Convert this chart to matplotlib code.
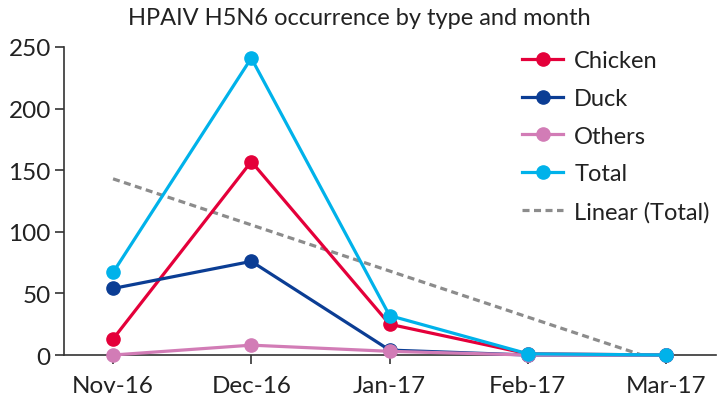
import numpy as np
import matplotlib
matplotlib.use('Agg')
import matplotlib.pyplot as plt

months = ['Nov-16', 'Dec-16', 'Jan-17', 'Feb-17', 'Mar-17']
chicken = [13, 157, 25, 1, 0]
duck = [54, 76, 4, 0, 0]
others = [0, 8, 3, 0, 0]
total = [67, 241, 32, 1, 0]

plt.rcParams['font.family'] = ['Lato', 'DejaVu Sans']
fig = plt.figure(figsize=(7.18, 4.02), dpi=100)
ax = fig.add_axes([0.0891, 0.1144, 0.9079, 0.7662])

x = np.arange(len(months))
series = [
    ('Chicken', chicken, '#e4003a'),
    ('Duck', duck, '#0b3d94'),
    ('Others', others, '#d27cb6'),
    ('Total', total, '#00b2ea'),
]
for name, vals, col in series:
    ax.plot(x, vals, color=col, lw=2.3, marker='o', ms=9.5, label=name,
            clip_on=False, zorder=3)

# linear trend of total
k, b = np.polyfit(x, total, 1)
ax.plot(x, k * x + b, color='#8c8c8c', lw=2.3, ls=(0, (2.2, 1.4)),
        label='Linear (Total)', zorder=2)

ax.set_xlim(-0.355, 4.36)
ax.set_ylim(0, 250)
ax.set_yticks([0, 50, 100, 150, 200, 250])
ax.set_xticks(x)
ax.set_xticklabels(months)

for s in ['top', 'right']:
    ax.spines[s].set_visible(False)
for s in ['left', 'bottom']:
    ax.spines[s].set_color('#333333')
    ax.spines[s].set_linewidth(1.2)
ax.tick_params(axis='both', labelsize=17.5, color='#333333', width=1.2,
               length=6.5, labelcolor='#222222')
ax.tick_params(axis='x', pad=8)
ax.tick_params(axis='y', pad=3)

fig.text(0.5, 0.955, 'HPAIV H5N6 occurrence by type and month',
         ha='center', va='center', fontsize=17, color='#222222')

leg = ax.legend(loc='upper left', bbox_to_anchor=(0.727, 0.872),
                bbox_transform=fig.transFigure, frameon=False, fontsize=17,
                handlelength=1.74, handletextpad=0.47, labelspacing=0.7,
                borderaxespad=0, borderpad=0)
for t in leg.get_texts():
    t.set_color('#222222')

fig.savefig('out.png', dpi=100)
